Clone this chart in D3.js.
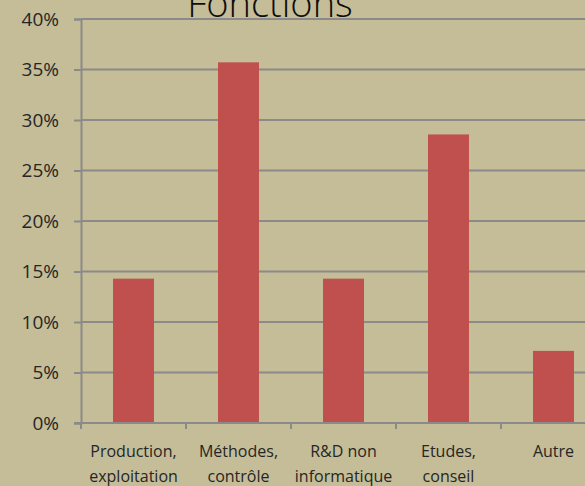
<!DOCTYPE html>
<html>
<head>
  <meta charset="utf-8">
  <title>Fonctions</title>
  <script src="https://d3js.org/d3.v7.min.js"></script>
  <style>
    body { margin: 0; background: #c4bd97; }
    svg { display: block; font-family: "Open Sans", sans-serif; }
  </style>
</head>
<body>
  <div id="chart"></div>
  <script>
  // data
  const categories = [
    ["Production,", "exploitation"],
    ["Méthodes,", "contrôle"],
    ["R&D non", "informatique"],
    ["Etudes,", "conseil"],
    ["Autre"]
  ];
  const values = [0.1429, 0.3571, 0.1429, 0.2857, 0.0714];
  const yTicks = [0, 0.05, 0.10, 0.15, 0.20, 0.25, 0.30, 0.35, 0.40];

  const width = 585,
    height = 486;
  const margin = { top: 19, left: 81, bottom: 63 };
  const plotRight = 606; // the plot runs past the picture edge

  const svg = d3.select("#chart").append("svg")
    .attr("width", width)
    .attr("height", height);

  svg.append("rect")
    .attr("width", width)
    .attr("height", height)
    .attr("fill", "#c4bd97");

  const x = d3.scaleBand()
    .domain(d3.range(categories.length))
    .range([margin.left, plotRight])
    .paddingInner(0.61)
    .paddingOuter(0.305);

  const y = d3.scaleLinear()
    .domain([0, 0.4])
    .range([height - margin.bottom, margin.top]);

  const gridColor = "#8a8a8a";

  // gridlines
  svg.append("g")
    .selectAll("line")
    .data(yTicks.slice(1))
    .join("line")
    .attr("x1", margin.left)
    .attr("x2", plotRight)
    .attr("y1", d => y(d))
    .attr("y2", d => y(d))
    .attr("stroke", gridColor)
    .attr("stroke-width", 2);

  // bars
  svg.append("g")
    .selectAll("rect")
    .data(values)
    .join("rect")
    .attr("x", (d, i) => x(i))
    .attr("width", x.bandwidth())
    .attr("y", d => y(d))
    .attr("height", d => y(0) - y(d))
    .attr("fill", "#c0504d");

  // y axis
  const yAxis = svg.append("g")
    .attr("transform", "translate(" + margin.left + ",0)")
    .call(d3.axisLeft(y).tickValues(yTicks).tickFormat(d3.format(".0%")).tickSize(7).tickPadding(15))
    .attr("font-family", "'Open Sans', sans-serif")
    .attr("font-size", 19);
  yAxis.select(".domain").attr("stroke", gridColor).attr("stroke-width", 2);
  yAxis.selectAll(".tick line").attr("stroke", gridColor).attr("stroke-width", 2);
  yAxis.selectAll(".tick text")
    .attr("fill", "#262626");

  // x axis
  const xAxis = svg.append("g")
    .attr("transform", "translate(0," + y(0) + ")");
  xAxis.append("line")
    .attr("x1", margin.left - 7)
    .attr("x2", plotRight)
    .attr("stroke", gridColor)
    .attr("stroke-width", 2);
  xAxis.selectAll(".tick")
    .data(d3.range(categories.length + 1))
    .join("line")
    .attr("x1", i => margin.left + i * x.step())
    .attr("x2", i => margin.left + i * x.step())
    .attr("y1", 0)
    .attr("y2", 6)
    .attr("stroke", gridColor)
    .attr("stroke-width", 2);

  const labels = svg.append("g")
    .selectAll("text")
    .data(categories)
    .join("text")
    .attr("text-anchor", "middle")
    .attr("fill", "#262626")
    .style("font-size", "16px");
  labels.selectAll("tspan")
    .data((d, i) => d.map(t => ({ t: t, i: i })))
    .join("tspan")
    .attr("x", d => x(d.i) + x.bandwidth() / 2)
    .attr("y", (d, j) => 457 + j * 25)
    .text(d => d.t);

  // title
  svg.append("text")
    .attr("x", 270)
    .attr("y", 17)
    .attr("text-anchor", "middle")
    .attr("fill", "#0d0d0d")
    .style("font-size", "38px")
    .style("font-weight", 300)
    .text("Fonctions");
  </script>
</body>
</html>
